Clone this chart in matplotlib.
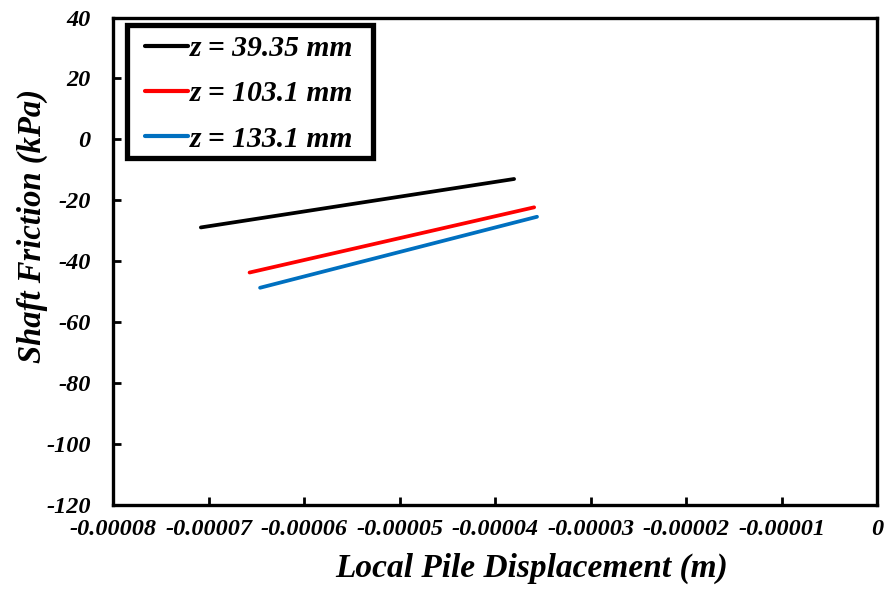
import matplotlib
matplotlib.use("Agg")
import matplotlib.pyplot as plt
from matplotlib.ticker import FixedLocator
from matplotlib.patches import Rectangle

# Data
labels = ["z = 39.35 mm", "z = 103.1 mm", "z = 133.1 mm"]
x_z1 = [-0.0000708, -0.0000380]
y_z1 = [-28.9, -13.0]
x_z2 = [-0.0000657, -0.0000359]
y_z2 = [-43.7, -22.3]
x_z3 = [-0.0000646, -0.0000356]
y_z3 = [-48.7, -25.4]
colors = ["#000000", "#FF0000", "#0070C0"]

xticks = [-0.00008, -0.00007, -0.00006, -0.00005, -0.00004, -0.00003, -0.00002, -0.00001, 0]
xtick_labels = ["-0.00008", "-0.00007", "-0.00006", "-0.00005", "-0.00004",
                "-0.00003", "-0.00002", "-0.00001", "0"]
yticks = [-120, -100, -80, -60, -40, -20, 0, 20, 40]

plt.rcParams['font.family'] = ['Liberation Serif', 'DejaVu Serif']
plt.rcParams['font.weight'] = 'bold'
plt.rcParams['font.style'] = 'italic'

W, H = 888, 590
fig = plt.figure(figsize=(W/100, H/100), dpi=100)
ax = fig.add_axes([113/W, 1-505/H, (877-113)/W, (505-17.5)/H])

for xs, ys, c, lab in zip([x_z1, x_z2, x_z3], [y_z1, y_z2, y_z3], colors, labels):
    ax.plot(xs, ys, color=c, lw=2.7, label=lab, solid_capstyle='round')

ax.set_xlim(-0.00008, 0)
ax.set_ylim(-120, 40)
ax.xaxis.set_major_locator(FixedLocator(xticks))
ax.set_xticklabels(xtick_labels)
ax.yaxis.set_major_locator(FixedLocator(yticks))
ax.set_yticklabels([str(v) for v in yticks])

for sp in ax.spines.values():
    sp.set_linewidth(2.4)
ax.tick_params(direction='in', length=6, width=2, labelsize=17.5)
ax.tick_params(axis='x', pad=10)
ax.tick_params(axis='y', pad=16)
for lbl in ax.get_xticklabels() + ax.get_yticklabels():
    lbl.set_fontweight('bold')
    lbl.set_fontstyle('italic')

ax.set_xlabel("Local Pile Displacement (m)", fontsize=24, fontweight='bold',
              fontstyle='italic')
ax.set_ylabel("Shaft Friction (kPa)", fontsize=23.5, fontweight='bold',
              fontstyle='italic')
ax.xaxis.set_label_coords((532-113)/764, -(577-505)/487.5)
ax.xaxis.label.set_va('baseline')
ax.yaxis.set_label_coords(-(113-48)/764, (505-226)/487.5)
ax.yaxis.label.set_va('bottom')

leg = ax.legend(loc='upper left', bbox_to_anchor=(145/W, 1-35/H),
                bbox_transform=fig.transFigure, borderaxespad=0,
                frameon=False, handlelength=1.45,
                handletextpad=0.05, labelspacing=0.62, borderpad=0,
                prop={'family': 'Liberation Serif', 'weight': 'bold',
                      'style': 'italic', 'size': 21.3})
for h in leg.get_lines():
    h.set_linewidth(3.0)

frame = Rectangle((127/W, 1-158/H), (373-127)/W, (158-25)/H,
                  transform=fig.transFigure, fill=True, facecolor='white',
                  edgecolor='black', linewidth=3.8, zorder=4)
fig.add_artist(frame)
leg.set_zorder(5)
fig.add_artist(leg)

fig.savefig("out.png", dpi=100)
